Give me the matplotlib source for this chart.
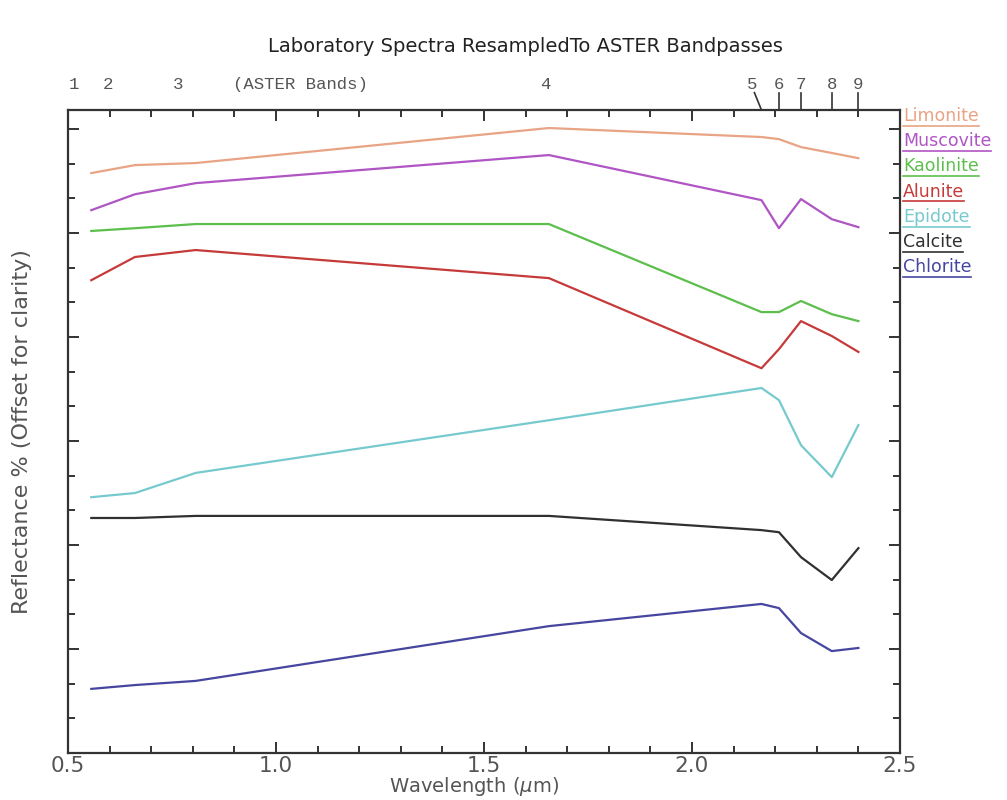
import matplotlib
matplotlib.use("Agg")
import matplotlib.pyplot as plt
from matplotlib.ticker import MultipleLocator
import matplotlib.transforms as mtrans

# ASTER band centres (micrometres)
band_centers = [0.556, 0.661, 0.807, 1.656, 2.167, 2.209, 2.262, 2.336, 2.400]
band_names = ["1", "2", "3", "4", "5", "6", "7", "8", "9"]
band_label_x = [0.514, 0.596, 0.764, 1.647, 2.144, 2.209, 2.262, 2.336, 2.400]

minerals = ["Limonite", "Muscovite", "Kaolinite", "Alunite", "Epidote", "Calcite", "Chlorite"]
colors = ["#E8A484", "#B055C4", "#5CBF4C", "#C63A3A", "#76CACE", "#303030", "#4646A0"]

limonite = [16.73, 16.96, 17.02, 18.03, 17.77, 17.71, 17.48, 17.31, 17.16]
muscovite = [15.66, 16.12, 16.44, 17.25, 15.95, 15.14, 15.98, 15.40, 15.17]
kaolinite = [15.06, 15.14, 15.26, 15.26, 12.72, 12.72, 13.04, 12.66, 12.46]
alunite = [13.64, 14.31, 14.51, 13.70, 11.10, 11.65, 12.46, 12.03, 11.57]
epidote = [7.38, 7.50, 8.08, 9.60, 10.53, 10.18, 8.88, 7.96, 9.46]
calcite = [6.78, 6.78, 6.84, 6.84, 6.43, 6.37, 5.65, 4.99, 5.91]
chlorite = [1.85, 1.96, 2.08, 3.66, 4.30, 4.18, 3.46, 2.94, 3.03]
series = [limonite, muscovite, kaolinite, alunite, epidote, calcite, chlorite]

gray = "#555555"
fig = plt.figure(figsize=(10.07, 8.0), dpi=100)
ax = fig.add_axes([68/1007, 1-753/800, 832/1007, 643/800])

for vals, c in zip(series, colors):
    ax.plot(band_centers, vals, color=c, lw=1.6)

ax.set_xlim(0.5, 2.5)
ax.set_ylim(0, 18.55)
ax.xaxis.set_major_locator(MultipleLocator(0.5))
ax.xaxis.set_minor_locator(MultipleLocator(0.1))
ax.yaxis.set_major_locator(MultipleLocator(3))
ax.yaxis.set_minor_locator(MultipleLocator(1))
ax.xaxis.set_major_formatter(plt.FuncFormatter(lambda v, p: f"{v:.1f}"))
ax.tick_params(which="both", direction="in", top=True, right=True, color="#333333", width=1.4)
ax.tick_params(which="major", length=8)
ax.tick_params(which="minor", length=5)
ax.tick_params(axis="x", labelsize=15.5, labelcolor=gray, pad=2)
ax.tick_params(axis="y", labelleft=False)
for s in ax.spines.values():
    s.set_color("#333333")
    s.set_linewidth(1.6)

ax.set_xlabel(r"Wavelength ($\mu$m)", fontsize=14, color=gray)
ax.xaxis.set_label_coords(0.488, -0.0345)
ax.set_ylabel("Reflectance % (Offset for clarity)", fontsize=16, color=gray)
ax.yaxis.set_label_coords(-0.055, 0.5)
ax.yaxis.label.set_va("center")

fig.text(525/1007, 1-47/800, "Laboratory Spectra ResampledTo ASTER Bandpasses",
         ha="center", va="center", fontsize=14, color="#222222")

# band markers above the top axis
tr = mtrans.blended_transform_factory(ax.transData, ax.transAxes)
for i, (bc, name, lx) in enumerate(zip(band_centers, band_names, band_label_x)):
    ax.text(lx, 1.040, name, transform=tr, ha="center", va="center",
            fontsize=12.5, family="Liberation Mono", color=gray)
    if i == 4:
        ax.plot([lx + 0.006, bc], [1.027, 1.0], transform=tr, color="#333333", lw=1.2, clip_on=False)
    elif i > 4:
        ax.plot([bc, bc], [1.0, 1.027], transform=tr, color="#333333", lw=1.2, clip_on=False)
ax.text(1.058, 1.040, "(ASTER Bands)", transform=tr, ha="center", va="center",
        fontsize=12.5, family="Liberation Mono", color=gray)

# legend labels with underline
fig.canvas.draw()
renderer = fig.canvas.get_renderer()
for k, (name, c) in enumerate(zip(minerals, colors)):
    y = 1 - (116 + 25.2*k)/800
    t = fig.text(903/1007, y, name, ha="left", va="center", fontsize=12.5, color=c)
    bb = t.get_window_extent(renderer=renderer).transformed(fig.transFigure.inverted())
    fig.add_artist(plt.Line2D([bb.x0, bb.x1], [bb.y0 - 0.001, bb.y0 - 0.001],
                              transform=fig.transFigure, color=c, lw=1.2))

fig.savefig("out.png", dpi=100)
